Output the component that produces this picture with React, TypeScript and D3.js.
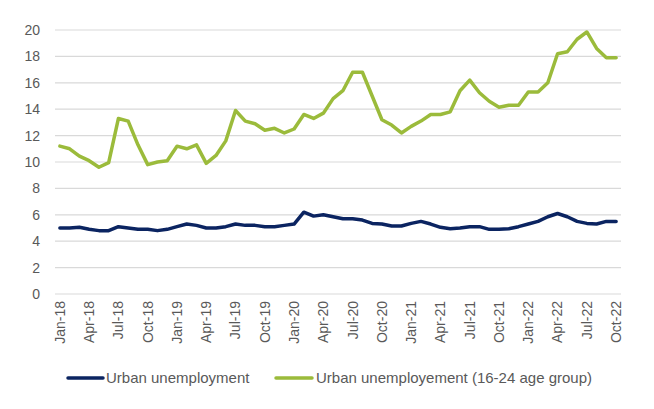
import React from 'react'
import * as d3 from 'd3'

const months = d3.timeMonths(new Date(2018, 0, 1), new Date(2022, 10, 1))

const urban = [
  5.0, 5.0, 5.05, 4.9, 4.8, 4.8, 5.1, 5.0, 4.9, 4.9, 4.8, 4.9,
  5.1, 5.3, 5.2, 5.0, 5.0, 5.1, 5.3, 5.2, 5.2, 5.1, 5.1, 5.2,
  5.3, 6.2, 5.9, 6.0, 5.85, 5.7, 5.7, 5.6, 5.35, 5.3, 5.15, 5.15,
  5.35, 5.5, 5.3, 5.05, 4.95, 5.0, 5.1, 5.1, 4.9, 4.9, 4.95, 5.1,
  5.3, 5.5, 5.85, 6.1, 5.85, 5.5, 5.35, 5.3, 5.5, 5.5,
]

const youth = [
  11.2, 11.0, 10.45, 10.1, 9.6, 9.95, 13.3, 13.1, 11.3, 9.8, 10.0, 10.1,
  11.2, 11.0, 11.3, 9.9, 10.5, 11.6, 13.9, 13.1, 12.9, 12.4, 12.55, 12.2,
  12.5, 13.6, 13.3, 13.7, 14.8, 15.4, 16.8, 16.8, 15.0, 13.2, 12.8, 12.2,
  12.7, 13.1, 13.6, 13.6, 13.8, 15.4, 16.2, 15.25, 14.6, 14.15, 14.3, 14.3,
  15.3, 15.3, 16.0, 18.2, 18.35, 19.3, 19.85, 18.6, 17.9, 17.9,
]

const yTicks = [0, 2, 4, 6, 8, 10, 12, 14, 16, 18, 20]

const seriesNames = ['Urban unemployment', 'Urban unemployement (16-24 age group)']
const seriesColors = ['#0b2461', '#9bbb3b']

const fmt = d3.timeFormat('%b-%y')

export default function App() {
  const width = 654
  const height = 409
  const margin = { left: 55, right: 33, top: 30, bottom: 115 }
  const innerWidth = width - margin.left - margin.right
  const innerHeight = height - margin.top - margin.bottom

  const xScale = d3.scaleBand<number>()
    .domain(months.map((d, i) => i))
    .range([0, innerWidth])

  const yScale = d3.scaleLinear()
    .domain([0, 20])
    .range([innerHeight, 0])

  const line = d3.line<number>()
    .x((d, i) => xScale(i)! + xScale.bandwidth() / 2)
    .y(d => yScale(d))

  const font = '"Liberation Sans", Arial, sans-serif'

  return (
    <div style={{ position: 'absolute', left: 0, top: 0 }}>
      <svg width={width} height={height} style={{ display: 'block', fontFamily: font }}>
        <rect width={width} height={height} fill="#fff" />
        <g transform={`translate(${margin.left},${margin.top})`}>
          {yTicks.map(t => (
            <g key={t} transform={`translate(0,${yScale(t)})`}>
              <line x2={innerWidth} stroke="#d9d9d9" strokeWidth={1.2} />
              <text x={-15} dy=".35em" textAnchor="end" fontSize={14} fill="#595959">{t}</text>
            </g>
          ))}
          {months.map((m, i) => i % 3 === 0 && (
            <text
              key={i}
              transform={`translate(${xScale(i)! + xScale.bandwidth() / 2},${innerHeight + 7}) rotate(-90)`}
              textAnchor="end"
              dy=".35em"
              fontSize={14}
              fill="#595959"
            >{fmt(m)}</text>
          ))}
          {[urban, youth].map((s, k) => (
            <path
              key={k}
              d={line(s)!}
              fill="none"
              stroke={seriesColors[k]}
              strokeWidth={3.5}
              strokeLinejoin="round"
              strokeLinecap="round"
            />
          ))}
        </g>
        <g transform="translate(68,378)">
          <line x1={0} x2={35} stroke={seriesColors[0]} strokeWidth={3.5} strokeLinecap="round" />
          <text x={38} dy=".35em" fontSize={15} fill="#595959">{seriesNames[0]}</text>
          <line x1={208} x2={244} stroke={seriesColors[1]} strokeWidth={3.5} strokeLinecap="round" />
          <text x={248} dy=".35em" fontSize={15} fill="#595959">{seriesNames[1]}</text>
        </g>
      </svg>
    </div>
  )
}
